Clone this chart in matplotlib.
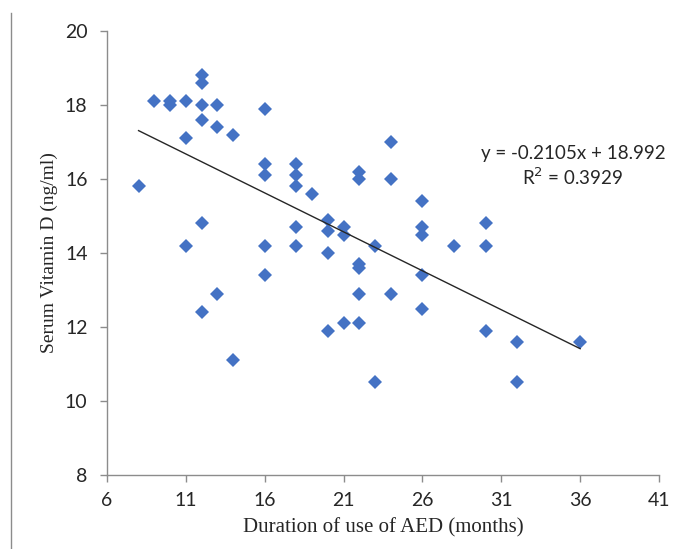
import numpy as np
import matplotlib
matplotlib.use("Agg")
import matplotlib.pyplot as plt
from matplotlib.lines import Line2D

# Duration of AED use (months) and serum vitamin D (ng/ml)
duration = [8, 9, 10, 10, 11, 11, 11,
            12, 12, 12, 12, 12, 12,
            13, 13, 13, 14, 14,
            16, 16, 16, 16, 16,
            18, 18, 18, 18, 18, 19,
            20, 20, 20, 20, 21, 21, 21,
            22, 22, 22, 22, 22, 22, 23, 23,
            24, 24, 24, 26, 26, 26, 26, 26,
            28, 30, 30, 30, 32, 32, 36]
vitamin_d = [15.8, 18.1, 18.1, 18.0, 18.1, 17.1, 14.2,
             18.8, 18.6, 18.0, 17.6, 14.8, 12.4,
             18.0, 17.4, 12.9, 17.2, 11.1,
             17.9, 16.4, 16.1, 14.2, 13.4,
             16.4, 16.1, 15.8, 14.7, 14.2, 15.6,
             14.9, 14.6, 14.0, 11.9, 14.7, 14.5, 12.1,
             16.2, 16.0, 13.7, 13.6, 12.9, 12.1, 14.2, 10.5,
             17.0, 16.0, 12.9, 15.4, 14.7, 14.5, 13.4, 12.5,
             14.2, 14.8, 14.2, 11.9, 11.6, 10.5, 11.6]

slope, intercept = -0.2105, 18.992
r_squared = 0.3929

x_ticks = [6, 11, 16, 21, 26, 31, 36, 41]
y_ticks = [8, 10, 12, 14, 16, 18, 20]

fig = plt.figure(figsize=(6.83, 5.49), dpi=100)
ax = fig.add_axes([0.1567, 0.1348, 0.8082, 0.8087])

ax.plot(duration, vitamin_d, linestyle="none", marker="D", markersize=7,
        color="#4472C4", markeredgewidth=0)

trend_x = np.array([min(duration), max(duration)])
ax.plot(trend_x, slope * trend_x + intercept, color="#262626", linewidth=1.0)

ax.set_xlim(6, 41)
ax.set_ylim(8, 20)
ax.set_xticks(x_ticks)
ax.set_yticks(y_ticks)

for side in ["top", "right"]:
    ax.spines[side].set_visible(False)
for side in ["left", "bottom"]:
    ax.spines[side].set_color("#8c8c8c")
    ax.spines[side].set_linewidth(1.0)

ax.tick_params(axis="both", direction="out", length=5, width=1.0, color="#8c8c8c",
               labelsize=14, labelcolor="#262626")
ax.tick_params(axis="x", pad=7)
ax.tick_params(axis="y", pad=9)
for lab in ax.get_xticklabels() + ax.get_yticklabels():
    lab.set_fontfamily("Lato")

ax.set_xlabel("Duration of use of AED (months)", fontsize=15,
              fontfamily="Liberation Serif", color="#262626", labelpad=7)
ax.set_ylabel("Serum Vitamin D (ng/ml)", fontsize=14,
              fontfamily="Liberation Serif", color="#262626", labelpad=5)

ax.text(0.844, 0.695, f"y = {slope}x + {intercept}\nR$^2$ = {r_squared}",
        transform=ax.transAxes, ha="center", va="center", fontsize=13.5,
        fontfamily="Lato", color="#262626", linespacing=1.2)

# thin frame line down the left edge of the picture
fig.add_artist(Line2D([11 / 683, 11 / 683], [0, 1 - 13 / 549],
                      transform=fig.transFigure, color="#8c8c8c", linewidth=1.0))

fig.savefig("out.png", dpi=100)
